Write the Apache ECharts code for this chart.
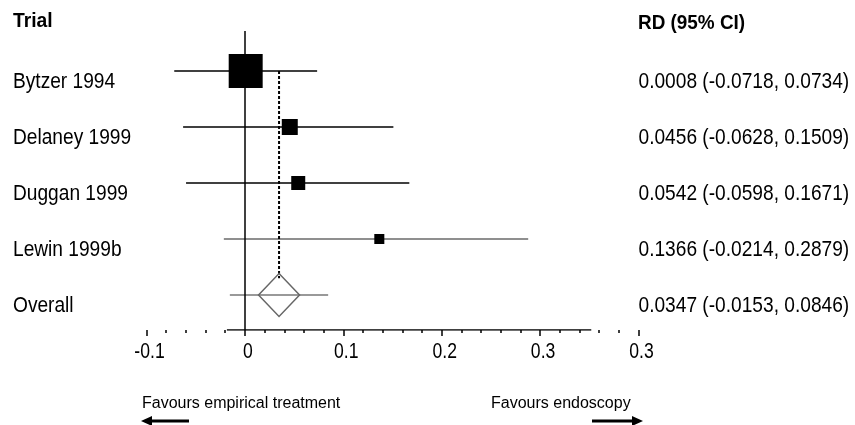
<!DOCTYPE html>
<html><head><meta charset="utf-8">
<script src="https://cdn.jsdelivr.net/npm/echarts@6/dist/echarts.min.js"></script>
<style>html,body{margin:0;padding:0;background:#fff}#c{width:855px;height:425px}</style>
</head><body><div id="c"></div>
<script>
// ---- data ----
const trials = ['Bytzer 1994', 'Delaney 1999', 'Duggan 1999', 'Lewin 1999b', 'Overall'];
const rd =    [0.0008, 0.0456, 0.0542, 0.1366, 0.0347];
const lower = [-0.0718, -0.0628, -0.0598, -0.0214, -0.0153];
const upper = [0.0734, 0.1509, 0.1671, 0.2879, 0.0846];
const weights = [67.7, 15.0, 11.5, 5.9];   // % weight (read from square areas)
const tickValues = [-0.1, 0, 0.1, 0.2, 0.3, 0.4];
const tickLabels = ['-0.1', '0', '0.1', '0.2', '0.3', '0.3'];
const rows = [5, 4, 3, 2, 1];   // row positions, top to bottom

const FONT = "'Liberation Sans', Arial, sans-serif";
const NARROW = 0.87;   // horizontal squeeze to mimic the narrow face of the original

const fmt = v => v.toFixed(4);
const ciText = trials.map((t, i) => fmt(rd[i]) + ' (' + fmt(lower[i]) + ', ' + fmt(upper[i]) + ')');

const studyIdx = [0, 1, 2, 3];
const ciColors = ['#000', '#000', '#000', '#6a6a6a', '#777'];

const xMin = -0.1, xMax = 0.4;
const yMin = 0.375, yMax = 5.714;

function textSeries(data, getText, dx, dy, align, scaleX) {
  return {
    type: 'custom', silent: true, clip: false, z: 6,
    data: data,
    renderItem: (params, api) => {
      const p = api.coord([api.value(0), api.value(1)]);
      return {
        type: 'text', x: p[0] + dx, y: p[1] + dy, scaleX: scaleX, scaleY: 1,
        style: {text: getText(api.value(2)), fontFamily: FONT, fontSize: 22, fill: '#000',
                align: align, verticalAlign: 'middle'}
      };
    }
  };
}

const chart = echarts.init(document.getElementById('c'), null, {renderer: 'canvas'});

chart.setOption({
  animation: false,
  backgroundColor: '#fff',
  grid: {left: 146.5, right: 216.5, top: 31, bottom: 95, containLabel: false, outerBoundsMode: 'none'},
  xAxis: {
    type: 'value', min: xMin, max: xMax, interval: 0.1,
    splitLine: {show: false},
    axisLine: {show: false},
    axisTick: {show: true, length: 6, lineStyle: {color: '#000', width: 1.5}},
    minorTick: {show: true, splitNumber: 5, length: 3, lineStyle: {color: '#000', width: 1.5}},
    axisLabel: {show: false}
  },
  yAxis: {
    type: 'value', min: yMin, max: yMax,
    splitLine: {show: false}, axisLine: {show: false}, axisTick: {show: false}, axisLabel: {show: false}
  },
  series: [
    { // x axis line (partial, as in the original) + vertical line at zero
      type: 'line', data: [[-0.0183, yMin], [0.352, yMin]], symbol: 'none',
      lineStyle: {color: '#000', width: 1.5}, silent: true, z: 1,
      markLine: {
        symbol: 'none', silent: true, label: {show: false},
        lineStyle: {color: '#000', width: 1.5, type: 'solid'},
        data: [{xAxis: 0}]
      }
    },
    { // confidence interval lines
      type: 'custom',
      renderItem: (params, api) => {
        const i = api.value(3);
        const a = api.coord([api.value(0), api.value(2)]);
        const b = api.coord([api.value(1), api.value(2)]);
        return {type: 'line', shape: {x1: a[0], y1: a[1], x2: b[0], y2: b[1]},
                style: {stroke: ciColors[i], lineWidth: 1.6}};
      },
      data: trials.map((t, i) => [lower[i], upper[i], rows[i], i]),
      z: 2
    },
    { // dashed overall line
      type: 'line', symbol: 'none', z: 3,
      data: [[rd[4], rows[0]], [rd[4], rows[4] + 0.3]],
      lineStyle: {color: '#000', width: 2, type: [3, 2]}
    },
    { // study squares
      type: 'scatter', symbol: 'rect', z: 4,
      data: studyIdx.map(i => [rd[i], rows[i], weights[i]]),
      symbolSize: v => 4.13 * Math.sqrt(v[2]),
      itemStyle: {color: '#000', opacity: 1}
    },
    { // overall diamond
      type: 'scatter', symbol: 'diamond', z: 5,
      data: [[rd[4], rows[4]]],
      symbolSize: [41, 43],
      itemStyle: {color: 'rgba(255,255,255,0)', borderColor: '#666', borderWidth: 1.5, opacity: 1}
    },
    // trial names (left column)
    textSeries(rows.map((r, i) => [xMin, r, i]), i => trials[i], 13 - 146.5, 10.5, 'left', NARROW),
    // RD (95% CI) text (right column)
    textSeries(rows.map((r, i) => [xMax, r, i]), i => ciText[i], 0, 10.5, 'left', NARROW),
    // x tick labels
    textSeries(tickValues.map((v, i) => [v, yMin, i]), i => tickLabels[i], 3, 21.5, 'center', 0.8)
  ],
  graphic: [
    {type: 'text', x: 13, y: 21, scaleX: 0.92, style: {text: 'Trial', fontFamily: FONT, fontWeight: 'bold', fontSize: 21, fill: '#000', verticalAlign: 'middle'}},
    {type: 'text', x: 638, y: 23, scaleX: 0.9, style: {text: 'RD (95% CI)', fontFamily: FONT, fontWeight: 'bold', fontSize: 21, fill: '#000', verticalAlign: 'middle'}},
    {type: 'text', left: 142, top: 396, style: {text: 'Favours empirical treatment', fontFamily: FONT, fontSize: 16, fill: '#000'}},
    {type: 'text', left: 491, top: 396, style: {text: 'Favours endoscopy', fontFamily: FONT, fontSize: 16, fill: '#000'}},
    {type: 'line', shape: {x1: 148, y1: 421, x2: 189, y2: 421}, style: {stroke: '#000', lineWidth: 3}},
    {type: 'polygon', shape: {points: [[141, 421], [152, 416], [152, 426]]}, style: {fill: '#000'}},
    {type: 'line', shape: {x1: 592, y1: 421, x2: 635, y2: 421}, style: {stroke: '#000', lineWidth: 3}},
    {type: 'polygon', shape: {points: [[643, 421], [632, 416], [632, 426]]}, style: {fill: '#000'}}
  ]
});
</script></body></html>
